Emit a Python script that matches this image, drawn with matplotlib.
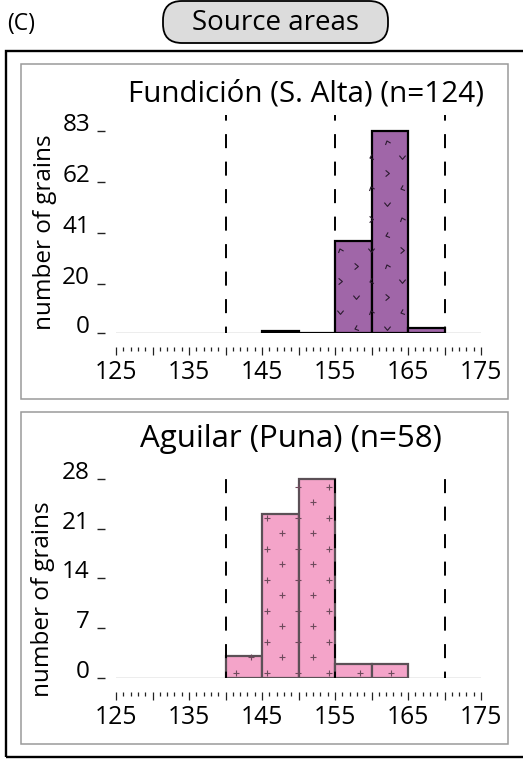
import numpy as np
import matplotlib
matplotlib.use('Agg')
import matplotlib.pyplot as plt
from matplotlib.patches import Rectangle, FancyBboxPatch
from matplotlib.path import Path
from matplotlib.transforms import IdentityTransform, Affine2D
from matplotlib.ticker import MultipleLocator, FuncFormatter

plt.rcParams['font.family'] = ['Open Sans', 'DejaVu Sans']
plt.rcParams['lines.scale_dashes'] = False

# data
bin_left = [125, 130, 135, 140, 145, 150, 155, 160, 165]
bin_width = 5
fund_counts = [0, 0, 0, 0, 1, 0, 38, 83, 2]
agui_counts = [0, 0, 0, 3, 23, 28, 2, 2, 0]
fund_yticks = [0, 20, 41, 62, 83]
agui_yticks = [0, 7, 14, 21, 28]
xlabel_ticks = [125, 135, 145, 155, 165, 175]
cut_lines = [140, 155, 170]
fund_title = 'Fundición (S. Alta) (n=124)'
agui_title = 'Aguilar (Puna) (n=58)'

W, H = 523, 762
fig = plt.figure(figsize=(W / 100, H / 100), dpi=100)
px = IdentityTransform()


def fx(x):
    return x / W


def fy(y):
    return 1 - y / H


# frames
fig.add_artist(Rectangle((6, H - 757), 700, 706, transform=px, fill=False,
                         ec='black', lw=1.7, clip_on=False))
for top, bot in [(64, 399), (412, 744)]:
    fig.add_artist(Rectangle((21, H - bot), 487, bot - top, transform=px,
                             fill=False, ec='#9a9a9a', lw=1.1, clip_on=False))

fig.add_artist(FancyBboxPatch((163, H - 43), 225, 42, transform=px,
                              boxstyle='round,pad=0,rounding_size=19',
                              fc='#dcdcdc', ec='black', lw=1.3, clip_on=False))
fig.text(fx(275), fy(30), 'Source areas', ha='center', va='baseline', fontsize=20)
fig.text(fx(7), fy(30), '(C)', ha='left', va='baseline', fontsize=16.5)

# chevron marker for the purple hatch
chev = Path([(-1, 0.6), (0, -0.6), (1, 0.6)], [Path.MOVETO, Path.LINETO, Path.LINETO])
chevs = [chev.transformed(Affine2D().rotate_deg(a)) for a in (0, 90, 200, 290)]


def lattice(ax, lefts, heights, x0_img, zero_img):
    # diamond lattice of pattern points in pixels, kept inside the bars
    pts = []
    for i in range(-30, 30):
        for j in range(0, 30):
            if (i + j) % 2:
                continue
            xd = x0_img + 15.5 * i
            yd = (H - zero_img) + 5 + 15.5 * j
            pts.append((xd, yd))
    pts = np.array(pts)
    data = ax.transData.inverted().transform(pts)
    keep = []
    for (x, y) in data:
        for l, h in zip(lefts, heights):
            if h > 0 and l - 0.25 <= x <= l + bin_width + 0.25 and 0 < y <= h:
                keep.append((x, y))
                break
    return np.array(keep)


def panel(top, zero, counts, yticks, ymax, title, title_xy, title_fs, ylab_xy,
          fc, ec, kind, x0_img):
    ax = fig.add_axes([fx(116), fy(zero), fx(481) - fx(116), (zero - top) / H])
    ax.set_xlim(125, 175)
    ax.set_ylim(0, ymax)
    ax.patch.set_visible(False)
    for s in ax.spines.values():
        s.set_visible(False)
    ax.spines['bottom'].set_position(('outward', 10.1))
    ax.spines['left'].set_position(('outward', 7.9))

    ax.axhline(0, color='#a8a8a8', lw=1.0, zorder=1)

    nz = [i for i, c in enumerate(counts) if c > 0]
    idx = range(nz[0], nz[-1] + 1)
    lefts = [bin_left[i] for i in idx]
    heights = [counts[i] for i in idx]
    ax.bar(lefts, heights, width=bin_width, align='edge', color=fc,
           edgecolor=ec, lw=1.6, zorder=2)

    pts = lattice(ax, lefts, heights, x0_img, zero)
    if kind == 'plus':
        ax.plot(pts[:, 0], pts[:, 1], ls='none', marker='+', ms=5, mew=0.8,
                color='#6e4a5c', zorder=3)
    else:
        for k, m in enumerate(chevs):
            sub = pts[k::4]
            ax.plot(sub[:, 0], sub[:, 1], ls='none', marker=m, ms=4.5, mew=0.8,
                    mfc='none', mec='#2a1a2e', zorder=3)

    for x in cut_lines:
        ax.plot([x, x], [0, ymax], color='black', lw=1.4,
                ls=(5.5, (10.1, 9.7)), zorder=4, solid_capstyle='butt',
                dash_capstyle='butt')

    ax.xaxis.set_major_locator(MultipleLocator(5))
    ax.xaxis.set_minor_locator(MultipleLocator(1))
    ax.xaxis.set_major_formatter(FuncFormatter(
        lambda v, p: '%d' % v if int(round(v)) in xlabel_ticks else ''))
    ax.tick_params(axis='x', which='major', direction='out', length=5.8,
                   width=0.9, color='#222222', labelsize=17.8, pad=3.5)
    ax.tick_params(axis='x', which='minor', direction='out', length=2.9,
                   width=0.9, color='#222222')
    ax.set_yticks(yticks)
    ax.tick_params(axis='y', direction='out', length=5.8, width=1.0,
                   color='#222222', labelsize=17.5, pad=5)
    plt.setp(ax.get_yticklabels(), va='baseline')

    fig.text(fx(title_xy[0]), fy(title_xy[1]), title, ha='center',
             va='baseline', fontsize=title_fs)
    fig.text(fx(ylab_xy[0]), fy(ylab_xy[1]), 'number of grains', rotation=90,
             ha='center', va='center', fontsize=17.5)
    return ax


panel(115, 333, fund_counts, fund_yticks, 89.6, fund_title, (305.5, 101.5), 21.3,
      (45, 232), '#a066a8', 'black', 'chev', 386.7)
panel(468, 677.7, agui_counts, agui_yticks, 29.55, agui_title, (290.5, 447), 22.5,
      (43, 599), '#f4a4c9', '#5b5056', 'plus', 235.7)

fig.savefig('out.png', dpi=100)
